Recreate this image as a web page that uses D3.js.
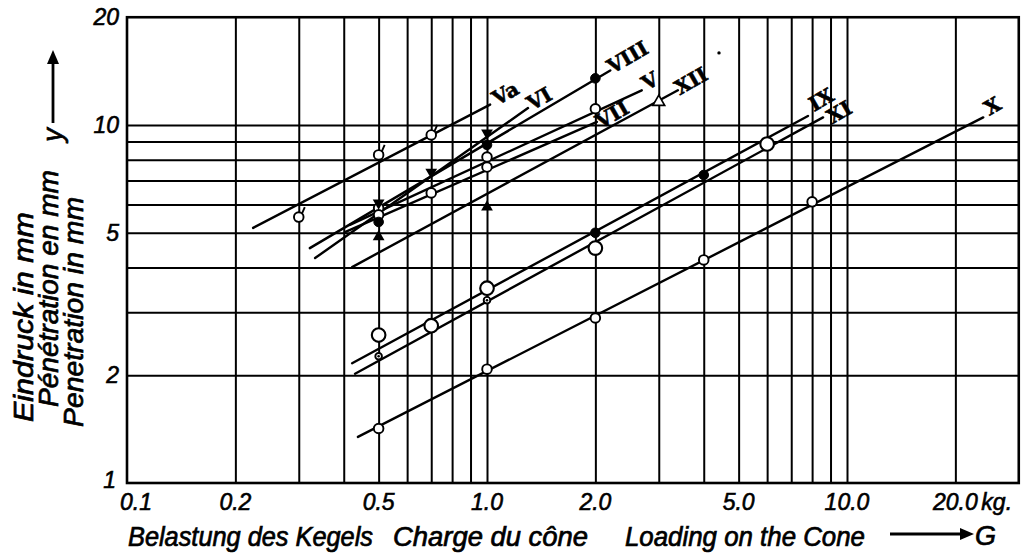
<!DOCTYPE html>
<html><head><meta charset="utf-8">
<script src="https://cdn.jsdelivr.net/npm/d3@7"></script>
<style>body{margin:0;background:#fff}</style>
</head><body>
<svg id="c" width="1021" height="556"></svg>
<script>
// ---- data ----
const xTicks=[0.1,0.2,0.5,1,2,5,10,20];
const xTickLabels=["0.1","0.2","0.5","1.0","2.0","5.0","10.0","20.0"];
const yTicks=[1,2,5,10,20];
const yTickLabels=["1","2","5","10","20"];
const xGrid=[0.2,0.3,0.4,0.5,0.6,0.7,0.8,0.9,1,2,3,4,5,6,7,8,9,10,20];
const yGrid=[2,3,4,5,6,7,8,9,10];

const seriesNames=["Va","VI","VIII","V","VII","XII","IX","XI","X"];
const lineFrom=[[0.224,5.16],[0.333,4.25],[0.322,4.53],[0.416,5.26],[0.403,5.02],[0.422,4.01],[0.422,2.16],[0.43,2.02],[0.438,1.345]];
const lineTo=[[1.02,11.4],[1.30,11.15],[2.20,14.2],[2.69,12.5],[2.02,10.2],[3.39,12.5],[7.79,10.6],[8.58,10.5],[23.9,10.5]];

const tickedCircles=[[0.3,5.53],[0.5,8.25],[0.7,9.38]];
const openCircles=[[0.5,5.86],[1,8.14],[2,11.1],[0.5,5.61],[0.7,6.46],[1,7.63],[0.5,1.42],[1,2.08],[2,2.89],[4,4.2],[8,6.1]];
const bigOpenCircles=[[0.5,2.59],[0.7,2.75],[1,3.5],[2,4.53],[6,8.85]];
const filledCircles=[[0.5,5.36],[1,8.8],[2,13.5],[2,5.0],[4,7.25]];
const smallCircles=[[0.5,2.26],[1,3.24]];
const filledDownTriangles=[[0.5,6.06],[0.7,7.39],[1,9.5]];
const filledTriangles=[[0.5,4.87],[1,5.9]];
const openTriangles=[[3,11.6]];
const specks=[[4.41,15.9]];

const yTitles=["Eindruck in mm","Pénétration en mm","Penetration in mm"];
const xTitles=["Belastung des Kegels","Charge du cône","Loading on the Cone"];

// ---- style: label nudges (px) from line end ----
const labelNudge={Va:[16,-10],VI:[12,-8],VIII:[18,-12],V:[9,-8],VII:[16,-6],XII:[14,-8],IX:[14,-15],XI:[17,-4],X:[10,-10]};

// ---- drawing ----
const svg=d3.select("#c");
const x=d3.scaleLog().domain([0.1,30]).range([127,127+360*Math.log10(300)]);
const y=d3.scaleLog().domain([1,20]).range([483,483-358*Math.log10(20)]);
const [X0,X1]=x.range(), [Y0,Y1]=y.range();
const ink="#000";
const font="'Liberation Sans', Arial, sans-serif";

// grid via axes
const gx=svg.append("g").attr("transform",`translate(0,${Y0})`)
  .call(d3.axisBottom(x).tickValues(xGrid).tickSize(-(Y0-Y1)).tickFormat(""));
gx.select(".domain").remove();
gx.selectAll("line").attr("stroke",ink).attr("stroke-width",2);
const gy=svg.append("g").attr("transform",`translate(${X0},0)`)
  .call(d3.axisLeft(y).tickValues(yGrid).tickSize(-(X1-X0)).tickFormat(""));
gy.select(".domain").remove();
gy.selectAll("line").attr("stroke",ink).attr("stroke-width",2);

svg.append("rect").attr("x",X0).attr("y",Y1).attr("width",X1-X0).attr("height",Y0-Y1)
  .attr("fill","none").attr("stroke",ink).attr("stroke-width",2.6);

// data lines
const lines=svg.append("g");
seriesNames.forEach((n,i)=>{
  lines.append("line")
    .attr("x1",x(lineFrom[i][0])).attr("y1",y(lineFrom[i][1]))
    .attr("x2",x(lineTo[i][0])).attr("y2",y(lineTo[i][1]))
    .attr("stroke",ink).attr("stroke-width",2.4).attr("stroke-linecap","round");
  const [dx,dy]=labelNudge[n];
  const lx=x(lineTo[i][0])+dx, ly=y(lineTo[i][1])+dy;
  lines.append("text").attr("x",lx).attr("y",ly)
    .attr("transform",`rotate(-30,${lx},${ly})`)
    .attr("text-anchor","middle").attr("dominant-baseline","middle")
    .attr("font-family","'DejaVu Serif', serif").attr("font-weight","bold")
    .attr("font-size",20).attr("fill",ink).attr("stroke",ink).attr("stroke-width",0.6).text(n);
});

// markers
const m=svg.append("g");
function circ(arr,r,fill,sw){
  m.selectAll(null).data(arr).join("circle")
   .attr("cx",d=>x(d[0])).attr("cy",d=>y(d[1])).attr("r",r)
   .attr("fill",fill).attr("stroke",ink).attr("stroke-width",sw);
}
circ(openCircles,4.8,"#fff",1.9);
circ(tickedCircles,4.8,"#fff",1.9);
m.selectAll(null).data(tickedCircles).join("line")
  .attr("x1",d=>x(d[0])+3).attr("y1",d=>y(d[1])-3)
  .attr("x2",d=>x(d[0])+6).attr("y2",d=>y(d[1])-10)
  .attr("stroke",ink).attr("stroke-width",1.9);
circ(bigOpenCircles,6.8,"#fff",2.1);
circ(smallCircles,3.3,"#fff",1.9);
m.selectAll(null).data(smallCircles).join("circle")
  .attr("cx",d=>x(d[0])).attr("cy",d=>y(d[1])).attr("r",1.3).attr("fill",ink);
circ(filledCircles,4.8,ink,1);
circ(specks,1.7,ink,0);
const tri=d3.symbol().type(d3.symbolTriangle).size(60);
m.selectAll(null).data(filledTriangles).join("path").attr("d",tri)
  .attr("transform",d=>`translate(${x(d[0])},${y(d[1])})`).attr("fill",ink);
m.selectAll(null).data(openTriangles).join("path").attr("d",tri)
  .attr("transform",d=>`translate(${x(d[0])},${y(d[1])})`).attr("fill","#fff").attr("stroke",ink).attr("stroke-width",1.7);
m.selectAll(null).data(filledDownTriangles).join("path").attr("d",tri)
  .attr("transform",d=>`translate(${x(d[0])},${y(d[1])}) rotate(180)`).attr("fill",ink);

// tick labels
const lab=svg.append("g").attr("font-family",font).attr("font-style","italic")
  .attr("font-size",23).attr("fill",ink).attr("stroke",ink).attr("stroke-width",0.6);
xTicks.forEach((v,i)=>{
  const t=lab.append("text").attr("y",510).text(xTickLabels[i]);
  if(i===0) t.attr("x",x(v)-7).attr("text-anchor","start");
  else t.attr("x",x(v)).attr("text-anchor","middle");
});
lab.append("text").attr("x",x(20)+26).attr("y",510).attr("text-anchor","start").text("kg.");
yTicks.forEach((v,i)=>{
  const t=lab.append("text").attr("text-anchor","end").text(yTickLabels[i]);
  if(i===0) t.attr("x",116).attr("y",y(v)+5);
  else t.attr("x",119).attr("y",y(v)+8);
});

// axis titles
const tt=svg.append("g").attr("font-family",font).attr("font-style","italic")
  .attr("font-size",27).attr("fill",ink).attr("stroke",ink).attr("stroke-width",0.7);
const xtPos=[[128,245],[393,195],[625,240]];
xTitles.forEach((t,i)=>{
  tt.append("text").attr("x",xtPos[i][0]).attr("y",546)
    .attr("textLength",xtPos[i][1]).attr("lengthAdjust","spacingAndGlyphs").text(t);
});
tt.append("text").attr("x",975).attr("y",545).text("G");
const ytPos=[[33,422,210],[58,407,237],[83,427,230]];
yTitles.forEach((t,i)=>{
  const [bx,by,len]=ytPos[i];
  tt.append("text").attr("x",bx).attr("y",by).attr("transform",`rotate(-90,${bx},${by})`)
    .attr("textLength",len).attr("lengthAdjust","spacingAndGlyphs").text(t);
});
tt.append("text").attr("x",62).attr("y",135).attr("transform","rotate(-90,62,135)")
  .attr("text-anchor","middle").text("y");

// arrows
svg.append("line").attr("x1",890).attr("y1",534).attr("x2",962).attr("y2",534).attr("stroke",ink).attr("stroke-width",2.8);
svg.append("path").attr("d","M960,528 L974,534 L960,540 Z").attr("fill",ink);
svg.append("line").attr("x1",53).attr("y1",123).attr("x2",53).attr("y2",62).attr("stroke",ink).attr("stroke-width",2.8);
svg.append("path").attr("d","M47,64 L53,50 L59,64 Z").attr("fill",ink);
</script>
</body></html>
